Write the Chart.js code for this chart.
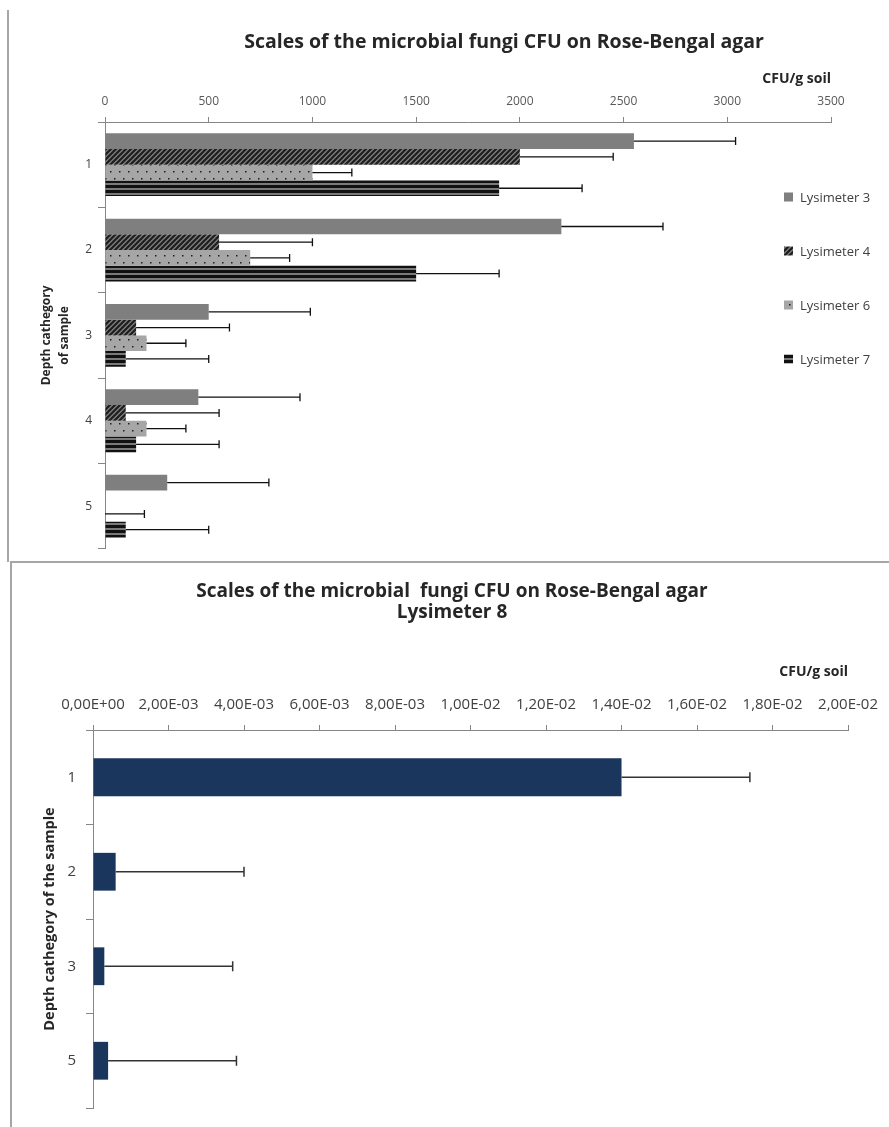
<!DOCTYPE html>
<html>
<head>
<meta charset="utf-8">
<title>Fungi CFU on Rose-Bengal agar</title>
<script src="https://cdn.jsdelivr.net/npm/chart.js@4.4.1/dist/chart.umd.min.js"></script>
<style>
    html, body { margin: 0; padding: 0; background: #fff; }
    body { width: 889px; height: 1127px; position: relative; overflow: hidden; }
    .panel { position: absolute; left: 0; width: 889px; }
    #topPanel { top: 0; height: 562px; }
    #bottomPanel { top: 562px; height: 565px; }
    .rule { position: absolute; background: #a6a6a6; }
</style>
</head>
<body>
<div class="panel" id="topPanel"><canvas id="lysChart" width="889" height="562"></canvas></div>
<div class="panel" id="bottomPanel"><canvas id="lys8Chart" width="889" height="565"></canvas></div>
<div class="rule" style="left:7px;top:10px;width:2px;height:552px"></div>
<div class="rule" style="left:10px;top:561px;width:879px;height:2px"></div>
<div class="rule" style="left:10px;top:561px;width:2px;height:566px"></div>

<script>
// --- data: lysimeters 3, 4, 6, 7 (CFU/g soil) ---
const depthCategories = ['1', '2', '3', '4', '5'];
const seriesNames = ['Lysimeter 3', 'Lysimeter 4', 'Lysimeter 6', 'Lysimeter 7'];
const lys3 = [2550, 2200, 500, 450, 300];
const lys4 = [2000, 550, 150, 100, null];
const lys6 = [1000, 700, 200, 200, 0];
const lys7 = [1900, 1500, 100, 150, 100];
const lys3Err = [490, 490, 490, 490, 490];
const lys4Err = [450, 450, 450, 450, null];
const lys6Err = [190, 190, 190, 190, 190];
const lys7Err = [400, 400, 400, 400, 400];
const cfuMax = 3500;
const cfuStep = 500;

// --- data: lysimeter 8 ---
const lys8Categories = ['1', '2', '3', '5'];
const lys8Values = [0.014, 0.0006, 0.0003, 0.0004];
const lys8Err = [0.0034, 0.0034, 0.0034, 0.0034];
const lys8Max = 0.02;
const lys8Step = 0.002;

const topTitle = ['Scales of the microbial fungi CFU on Rose-Bengal agar'];
const bottomTitle = ['Scales of the microbial  fungi CFU on Rose-Bengal agar', 'Lysimeter 8'];

Chart.defaults.font.family = "'Open Sans', sans-serif";
Chart.defaults.color = '#404040';

// fill patterns for the grey-scale series
function makePattern(target, w, h, paint) {
    const tile = document.createElement('canvas');
    tile.width = w;
    tile.height = h;
    paint(tile.getContext('2d'), w, h);
    return target.getContext('2d').createPattern(tile, 'repeat');
}

const topCanvas = document.getElementById('lysChart');

const hatch = makePattern(topCanvas, 5, 5, (g, w, h) => {
    g.fillStyle = '#7f7f7f';
    g.fillRect(0, 0, w, h);
    g.strokeStyle = '#1e1e1e';
    g.lineWidth = 2.2;
    g.beginPath();
    g.moveTo(0, h); g.lineTo(w, 0);
    g.moveTo(-1, 1); g.lineTo(1, -1);
    g.moveTo(w - 1, h + 1); g.lineTo(w + 1, h - 1);
    g.stroke();
});

const dots = makePattern(topCanvas, 18, 14, (g, w, h) => {
    g.fillStyle = '#a6a6a6';
    g.fillRect(0, 0, w, h);
    g.fillStyle = '#1e1e1e';
    [[2, 3], [11, 3], [6, 10], [15, 10]].forEach(([x, y]) => g.fillRect(x, y, 1.5, 1.5));
});

const stripes = makePattern(topCanvas, 4, 5, (g, w, h) => {
    g.fillStyle = '#7a7a7a';
    g.fillRect(0, 0, w, h);
    g.fillStyle = '#111111';
    g.fillRect(0, 0, w, 3);
});

// positive error bars with end caps, read from dataset.errors
const errorBars = {
    id: 'errorBars',
    afterDatasetsDraw(chart, args, opts) {
        const { ctx } = chart;
        const xs = chart.scales.x;
        ctx.save();
        ctx.strokeStyle = opts.color;
        ctx.lineWidth = opts.width;
        chart.data.datasets.forEach((ds, di) => {
            if (!ds.errors) return;
            chart.getDatasetMeta(di).data.forEach((bar, i) => {
                const v = ds.data[i];
                const e = ds.errors[i];
                if (v == null || e == null) return;
                const x0 = xs.getPixelForValue(v);
                const x1 = xs.getPixelForValue(v + e);
                ctx.beginPath();
                ctx.moveTo(x0, bar.y);
                ctx.lineTo(x1, bar.y);
                ctx.moveTo(x1, bar.y - opts.cap);
                ctx.lineTo(x1, bar.y + opts.cap);
                ctx.stroke();
            });
        });
        ctx.restore();
    }
};

// centred heading, one or more lines
const headline = {
    id: 'headline',
    afterDraw(chart, args, opts) {
        const { ctx } = chart;
        ctx.save();
        ctx.font = opts.font;
        ctx.fillStyle = opts.color;
        ctx.textAlign = 'center';
        ctx.textBaseline = 'middle';
        opts.lines.forEach((t, i) => ctx.fillText(t, opts.x, opts.y + i * opts.lineGap));
        ctx.restore();
    }
};

// legend column on the right, floating over the plot
const sideLegend = {
    id: 'sideLegend',
    afterDraw(chart, args, opts) {
        const { ctx } = chart;
        ctx.save();
        ctx.font = opts.font;
        ctx.textBaseline = 'middle';
        chart.data.datasets.forEach((ds, i) => {
            const y = opts.top + i * opts.gap;
            ctx.fillStyle = ds.backgroundColor;
            ctx.fillRect(opts.left, y - opts.box / 2, opts.box, opts.box);
            ctx.fillStyle = opts.color;
            ctx.fillText(ds.label, opts.left + opts.box + 7, y + 1);
        });
        ctx.restore();
    }
};

function sciComma(v) {
    const [m, e] = Number(v).toExponential(2).split('e');
    const n = parseInt(e, 10);
    return m.replace('.', ',') + 'E' + (n < 0 ? '-' : '+') + String(Math.abs(n)).padStart(2, '0');
}

const axisGrey = '#868686';

new Chart(topCanvas, {
    type: 'bar',
    data: {
        labels: depthCategories,
        datasets: [
            { label: seriesNames[0], data: lys3, errors: lys3Err, backgroundColor: '#7f7f7f' },
            { label: seriesNames[1], data: lys4, errors: lys4Err, backgroundColor: hatch },
            { label: seriesNames[2], data: lys6, errors: lys6Err, backgroundColor: dots },
            { label: seriesNames[3], data: lys7, errors: lys7Err, backgroundColor: stripes }
        ]
    },
    plugins: [errorBars, headline, sideLegend],
    options: {
        responsive: false,
        animation: false,
        indexAxis: 'y',
        layout: { padding: { top: 62, right: 58, bottom: 5, left: 0 } },
        datasets: { bar: { categoryPercentage: 0.736, barPercentage: 1, borderWidth: 0 } },
        scales: {
            x: {
                position: 'top',
                min: 0,
                max: cfuMax,
                ticks: {
                    stepSize: cfuStep, color: '#595959', font: { size: 12 }, padding: 8, maxRotation: 0,
                    callback: v => String(v)
                },
                grid: { drawOnChartArea: false, tickLength: 5, color: axisGrey },
                border: { color: axisGrey },
                title: {
                    display: true, text: 'CFU/g soil', align: 'end', color: '#262626',
                    font: { size: 14, weight: 'bold' }, padding: { top: 9, bottom: 0 }
                },
                afterFit(s) { s.height = 60; }
            },
            y: {
                ticks: { color: '#404040', font: { size: 12 }, padding: 6 },
                grid: { drawOnChartArea: false, tickLength: 7, color: axisGrey },
                border: { color: axisGrey },
                title: {
                    display: true, text: ['Depth cathegory', 'of sample'], color: '#262626',
                    font: { size: 12, weight: 'bold', lineHeight: 1.5 }, padding: { top: 38, bottom: 0 }
                },
                afterFit(s) { s.width = 105; }
            }
        },
        plugins: {
            legend: { display: false },
            tooltip: { enabled: false },
            errorBars: { color: '#111', width: 1.3, cap: 4 },
            headline: { lines: topTitle, x: 504, y: 42, lineGap: 20, font: "bold 19.5px 'Open Sans'", color: '#262626' },
            sideLegend: { left: 784, top: 197, gap: 54, box: 9, font: "13px 'Open Sans'", color: '#404040' }
        }
    }
});

new Chart(document.getElementById('lys8Chart'), {
    type: 'bar',
    data: {
        labels: lys8Categories,
        datasets: [
            { label: 'Lysimeter 8', data: lys8Values, errors: lys8Err, backgroundColor: '#1b365d' }
        ]
    },
    plugins: [errorBars, headline],
    options: {
        responsive: false,
        animation: false,
        indexAxis: 'y',
        layout: { padding: { top: 80, right: 40, bottom: 10, left: 10 } },
        datasets: { bar: { categoryPercentage: 0.4, barPercentage: 1, borderWidth: 0 } },
        scales: {
            x: {
                position: 'top',
                min: 0,
                max: lys8Max,
                ticks: {
                    stepSize: lys8Step, color: '#404040', font: { size: 15 }, padding: 11,
                    autoSkip: false, maxRotation: 0, minRotation: 0, callback: v => sciComma(v)
                },
                grid: { drawOnChartArea: false, tickLength: 5, color: axisGrey },
                border: { color: axisGrey },
                title: {
                    display: true, text: 'CFU/g soil', align: 'end', color: '#262626',
                    font: { size: 14, weight: 'bold' }, padding: { top: 22, bottom: 0 }
                },
                afterFit(s) { s.height = 88; }
            },
            y: {
                ticks: { color: '#404040', font: { size: 15 }, padding: 10 },
                grid: { drawOnChartArea: false, tickLength: 7, color: axisGrey },
                border: { color: axisGrey },
                title: {
                    display: true, text: 'Depth cathegory of the sample', color: '#262626',
                    font: { size: 14.5, weight: 'bold' }, padding: { top: 31, bottom: 0 }
                },
                afterFit(s) { s.width = 83; }
            }
        },
        plugins: {
            legend: { display: false },
            tooltip: { enabled: false },
            errorBars: { color: '#333', width: 1.5, cap: 5 },
            headline: { lines: bottomTitle, x: 452, y: 30, lineGap: 21, font: "bold 19px 'Open Sans'", color: '#262626' }
        }
    }
});
</script>
</body>
</html>
